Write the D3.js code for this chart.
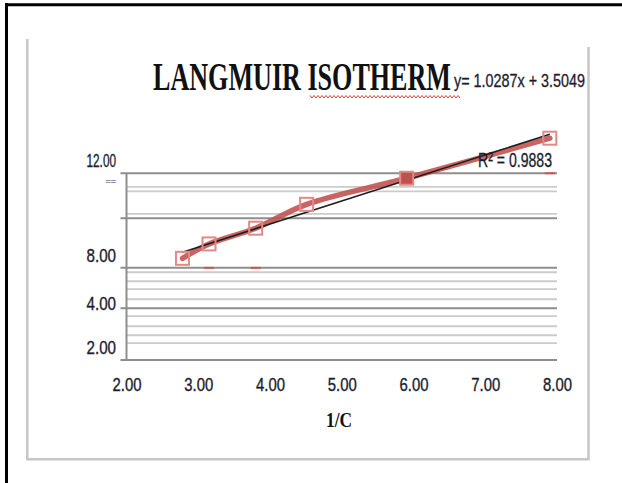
<!DOCTYPE html>
<html>
<head>
<meta charset="utf-8">
<script src="https://cdn.jsdelivr.net/npm/d3@7"></script>
<style>
  html, body { margin: 0; padding: 0; background: #fff; }
  svg { display: block; }
</style>
</head>
<body>
<div id="chart"></div>
<script>
// Langmuir isotherm: 1/q against 1/C
const xValues = [2.78, 3.15, 3.80, 4.51, 5.905, 7.90];
const yValues = [6.22, 6.86, 7.56, 8.62, 9.78, 11.56];
const filledIndex = 4;

const xTicks = [2, 3, 4, 5, 6, 7, 8];
const majorGrid = [4, 5.8, 8, 10];
const minorGrid = [2.45, 2.8, 3.2, 3.65, 4.4, 4.85, 5.2, 5.6, 8.2, 9.2, 9.4];
const yTickValues = [2, 4, 8, 10, 12];
const yTickLabels = ["2.00", "4.00", "8.00", "==", "12.00"];
const dashX = [3.15, 3.80, 7.90];
const dashY = [5.8, 5.8, 10];

const titleText = "LANGMUIR ISOTHERM";
const equationText = "y= 1.0287x + 3.5049";
const r2Text = "R\u00B2 = 0.9883";
const xTitle = "1/C";

const W = 622, H = 483;
const labelFont = "'Liberation Sans Narrow', 'Liberation Sans', sans-serif";
const labelColor = "#1c1c2c";

const svg = d3.select("#chart").append("svg")
    .attr("width", W)
    .attr("height", H);

// outer black frame (left + top only)
svg.append("line").attr("x1", 6.5).attr("x2", 6.5).attr("y1", 3).attr("y2", H)
    .attr("stroke", "#000").attr("stroke-width", 3);
svg.append("line").attr("x1", 5).attr("x2", W).attr("y1", 4.8).attr("y2", 4.8)
    .attr("stroke", "#000").attr("stroke-width", 3);

// inner chart frame
svg.append("path")
    .attr("d", "M27.3,39V459.3H588.5V47")
    .attr("stroke", "#c6c6c6").attr("stroke-width", 2.5).attr("fill", "none");

const x = d3.scaleLinear().domain([2, 8]).range([126.5, 557]);
const y = d3.scaleLinear().domain([1.7, 10]).range([360, 173.3]);
// tick labels sit unevenly in the source picture
const yLabel = d3.scaleLinear().domain(yTickValues).range([347, 303, 255, 181.7, 159.3]);

// minor gridlines
svg.append("g").selectAll("line")
    .data(minorGrid)
    .join("line")
    .attr("x1", x(2)).attr("x2", x(8))
    .attr("y1", d => y(d)).attr("y2", d => y(d))
    .attr("stroke", "#cbcbcb").attr("stroke-width", 1.8);

// major gridlines with ticks
svg.append("g").selectAll("line")
    .data(majorGrid)
    .join("line")
    .attr("x1", x(2) - 6).attr("x2", x(8))
    .attr("y1", d => y(d)).attr("y2", d => y(d))
    .attr("stroke", "#8e8e8e").attr("stroke-width", 2);

// axis lines
svg.append("line")
    .attr("x1", x(2)).attr("x2", x(2))
    .attr("y1", y(10)).attr("y2", y(1.7))
    .attr("stroke", "#8e8e8e").attr("stroke-width", 2);
svg.append("line")
    .attr("x1", x(2) - 6).attr("x2", x(8))
    .attr("y1", y(1.7)).attr("y2", y(1.7))
    .attr("stroke", "#8e8e8e").attr("stroke-width", 2);

// x tick labels
svg.append("g")
    .attr("transform", `translate(0,384)`)
    .call(d3.axisBottom(x).tickValues(xTicks).tickSize(0).tickPadding(0).tickFormat(d3.format(".2f")))
    .call(g => g.select(".domain").remove())
    .selectAll("text")
    .attr("y", 0)
    .attr("dy", "0.36em")
    .attr("fill", labelColor)
    .attr("stroke", labelColor).attr("stroke-width", 0.35)
    .attr("font-family", labelFont)
    .attr("font-size", 18.5)
    .attr("textLength", 29)
    .attr("lengthAdjust", "spacingAndGlyphs");

// y tick labels
svg.append("g")
    .attr("transform", `translate(116,0)`)
    .call(d3.axisLeft(yLabel).tickValues(yTickValues).tickSize(0).tickPadding(0)
        .tickFormat((d, i) => yTickLabels[i]))
    .call(g => g.select(".domain").remove())
    .selectAll("text")
    .attr("x", 0)
    .attr("dy", "0.36em")
    .each(function(d, i) {
        const t = d3.select(this).attr("font-family", labelFont);
        if (yTickLabels[i] === "==") {
            t.attr("fill", "#8a8fa8").attr("font-size", 9).attr("font-weight", "bold");
        } else {
            t.attr("fill", labelColor)
                .attr("stroke", labelColor).attr("stroke-width", 0.35)
                .attr("font-size", 19)
                .attr("textLength", 29.5)
                .attr("lengthAdjust", "spacingAndGlyphs");
        }
    });

// small red dashes
svg.append("g").selectAll("line")
    .data(dashX)
    .join("line")
    .attr("x1", d => x(d) - 5).attr("x2", d => x(d) + 5)
    .attr("y1", (d, i) => y(dashY[i])).attr("y2", (d, i) => y(dashY[i]))
    .attr("stroke", "#e04848").attr("stroke-width", 1.8);

const pts = xValues.map((d, i) => [d, yValues[i]]);

// series line (smoothed)
svg.append("path")
    .datum(pts)
    .attr("fill", "none")
    .attr("stroke", "#c0504d")
    .attr("stroke-width", 5.5)
    .attr("stroke-opacity", 0.88)
    .attr("stroke-linecap", "round")
    .attr("d", d3.line().x(d => x(d[0])).y(d => y(d[1])).curve(d3.curveCatmullRom));

// linear trend line from least squares
const mx = d3.mean(xValues), my = d3.mean(yValues);
const slope = d3.sum(xValues, (d, i) => (d - mx) * (yValues[i] - my)) / d3.sum(xValues, d => (d - mx) ** 2);
const icpt = my - slope * mx;
const xr = d3.extent(xValues);
svg.append("line")
    .attr("x1", x(xr[0])).attr("x2", x(xr[1]))
    .attr("y1", y(slope * xr[0] + icpt)).attr("y2", y(slope * xr[1] + icpt))
    .attr("stroke", "#1e1e1e").attr("stroke-width", 1.6);

// markers
const ms = 13;
svg.append("g").selectAll("rect")
    .data(pts)
    .join("rect")
    .attr("x", d => x(d[0]) - ms / 2)
    .attr("y", d => y(d[1]) - ms / 2)
    .attr("width", ms).attr("height", ms)
    .attr("fill", (d, i) => i === filledIndex ? "#c0504d" : "none")
    .attr("stroke", "#e08a88")
    .attr("stroke-width", 2);

// title
svg.append("text")
    .attr("x", 153).attr("y", 89.5)
    .attr("font-family", "'Liberation Serif', 'Times New Roman', serif")
    .attr("font-weight", "bold")
    .attr("font-size", 39)
    .attr("fill", "#111")
    .attr("textLength", 298)
    .attr("lengthAdjust", "spacingAndGlyphs")
    .text(titleText);

// spell-check squiggle under the title
const sq = d3.path();
sq.moveTo(310, 95.5);
for (let px = 310, k = 0; px < 460; px += 2, k++) sq.lineTo(px + 2, k % 2 ? 95.5 : 98);
svg.append("path").attr("d", sq.toString()).attr("fill", "none")
    .attr("stroke", "#e23b3b").attr("stroke-width", 1);

// trendline equation and R²
svg.append("text")
    .attr("x", 454).attr("y", 87)
    .attr("font-family", labelFont)
    .attr("font-size", 18.5)
    .attr("fill", labelColor)
    .attr("stroke", labelColor).attr("stroke-width", 0.3)
    .attr("textLength", 131)
    .attr("lengthAdjust", "spacingAndGlyphs")
    .text(equationText);

svg.append("text")
    .attr("x", 478).attr("y", 166.5)
    .attr("font-family", labelFont)
    .attr("font-size", 20)
    .attr("fill", labelColor)
    .attr("stroke", labelColor).attr("stroke-width", 0.3)
    .attr("textLength", 74)
    .attr("lengthAdjust", "spacingAndGlyphs")
    .text(r2Text);

// x axis title
svg.append("text")
    .attr("x", 339).attr("y", 427)
    .attr("text-anchor", "middle")
    .attr("font-family", "'Liberation Serif', 'Times New Roman', serif")
    .attr("font-weight", "bold")
    .attr("font-size", 22)
    .attr("fill", "#111")
    .attr("textLength", 26)
    .attr("lengthAdjust", "spacingAndGlyphs")
    .text(xTitle);
</script>
</body>
</html>
